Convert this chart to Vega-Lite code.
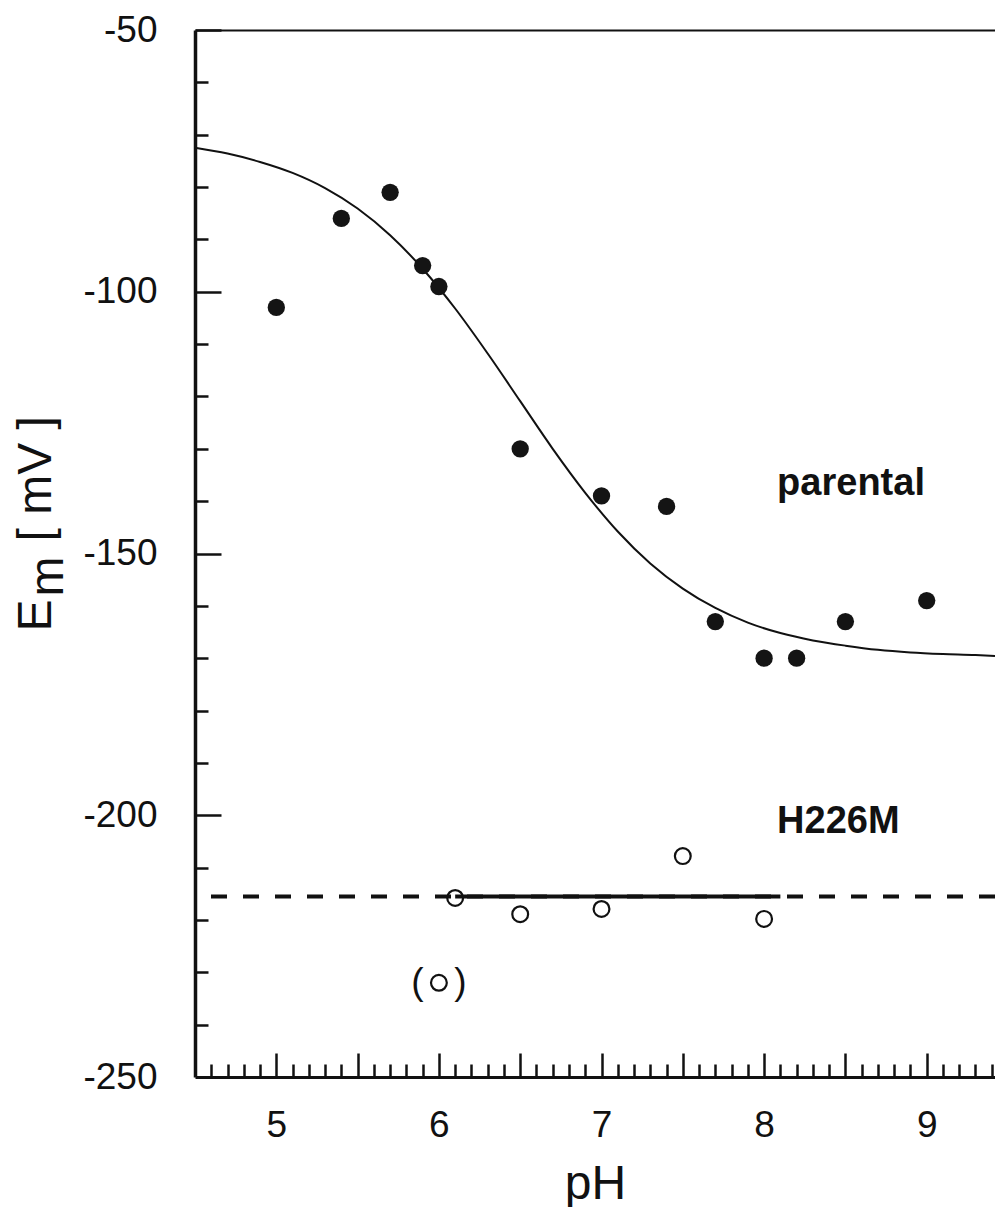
{
  "$schema": "https://vega.github.io/schema/vega-lite/v6.json",
  "width": 800,
  "height": 1047,
  "autosize": {"type": "none"},
  "padding": {"left": 195, "top": 30, "right": 0, "bottom": 130},
  "background": "white",
  "config": {
    "view": {"stroke": null},
    "axis": {
      "grid": false,
      "labelFont": "Liberation Sans",
      "titleFont": "Liberation Sans",
      "labelColor": "#111",
      "titleColor": "#111",
      "domainColor": "#111",
      "tickColor": "#111",
      "titleFontWeight": "normal"
    },
    "text": {"font": "Liberation Sans"}
  },
  "datasets": {
    "parental": [
      {"pH": 5.0, "Em": -103},
      {"pH": 5.4, "Em": -86},
      {"pH": 5.7, "Em": -81},
      {"pH": 5.9, "Em": -95},
      {"pH": 6.0, "Em": -99},
      {"pH": 6.5, "Em": -130},
      {"pH": 7.0, "Em": -139},
      {"pH": 7.4, "Em": -141},
      {"pH": 7.7, "Em": -163},
      {"pH": 8.0, "Em": -170},
      {"pH": 8.2, "Em": -170},
      {"pH": 8.5, "Em": -163},
      {"pH": 9.0, "Em": -159}
    ],
    "parentalFit": [
      {"pH": 4.5, "Em": -72.5},
      {"pH": 4.7, "Em": -73.6},
      {"pH": 4.9, "Em": -75.2},
      {"pH": 5.1, "Em": -77.3},
      {"pH": 5.3, "Em": -80.2},
      {"pH": 5.5, "Em": -84.1},
      {"pH": 5.7, "Em": -89.2},
      {"pH": 5.9, "Em": -95.6},
      {"pH": 6.1, "Em": -103.2},
      {"pH": 6.3, "Em": -111.8},
      {"pH": 6.5, "Em": -120.9},
      {"pH": 6.7, "Em": -130.0},
      {"pH": 6.9, "Em": -138.4},
      {"pH": 7.1, "Em": -145.8},
      {"pH": 7.3, "Em": -151.9},
      {"pH": 7.5, "Em": -156.7},
      {"pH": 7.7, "Em": -160.4},
      {"pH": 7.9, "Em": -163.2},
      {"pH": 8.1, "Em": -165.2},
      {"pH": 8.3, "Em": -166.6},
      {"pH": 8.5, "Em": -167.6},
      {"pH": 8.7, "Em": -168.4},
      {"pH": 8.9, "Em": -168.9},
      {"pH": 9.1, "Em": -169.2},
      {"pH": 9.3, "Em": -169.4},
      {"pH": 9.42, "Em": -169.6}
    ],
    "H226M": [
      {"pH": 6.1, "Em": -215.8, "excluded": false},
      {"pH": 6.5, "Em": -218.9, "excluded": false},
      {"pH": 7.0, "Em": -217.9, "excluded": false},
      {"pH": 7.5, "Em": -207.8, "excluded": false},
      {"pH": 8.0, "Em": -219.8, "excluded": false},
      {"pH": 6.0, "Em": -232.0, "excluded": true}
    ],
    "H226MFit": [
      {"Em": -215.5, "pH_start": 6.1, "pH_end": 8.1}
    ],
    "notes": [
      {"pH": 8.08, "Em": -138.8, "label": "parental"},
      {"pH": 8.08, "Em": -203.4, "label": "H226M"}
    ]
  },
  "resolve": {"axis": {"x": "independent", "y": "independent"}},
  "layer": [
    {
      "data": {"name": "parentalFit"},
      "mark": {"type": "line", "color": "#111", "strokeWidth": 2, "interpolate": "monotone"},
      "encoding": {
        "x": {
          "field": "pH", "type": "quantitative",
          "scale": {"domain": [4.5, 9.42], "nice": false, "zero": false},
          "axis": {
            "orient": "bottom",
            "values": [4.6, 4.7, 4.8, 4.9, 5.1, 5.2, 5.3, 5.4, 5.6, 5.7, 5.8, 5.9, 6.1, 6.2, 6.3, 6.4, 6.6, 6.7, 6.8, 6.9, 7.1, 7.2, 7.3, 7.4, 7.6, 7.7, 7.8, 7.9, 8.1, 8.2, 8.3, 8.4, 8.6, 8.7, 8.8, 8.9, 9.1, 9.2, 9.3, 9.4],
            "tickSize": -13, "tickWidth": 2.5,
            "labels": false, "domain": false, "title": null
          }
        },
        "y": {
          "field": "Em", "type": "quantitative",
          "scale": {"domain": [-250, -50], "nice": false, "zero": false},
          "axis": {
            "orient": "left",
            "values": [-240, -230, -220, -210, -190, -180, -170, -160, -140, -130, -120, -110, -90, -80, -70, -60],
            "tickSize": -13, "tickWidth": 2.5,
            "labels": false, "domain": false, "title": null
          }
        }
      }
    },
    {
      "data": {"name": "parental"},
      "mark": {"type": "circle", "color": "#141414", "size": 300, "opacity": 1},
      "encoding": {
        "x": {
          "field": "pH", "type": "quantitative",
          "scale": {"domain": [4.5, 9.42], "nice": false, "zero": false},
          "axis": {
            "orient": "bottom",
            "values": [5, 5.5, 6, 6.5, 7, 7.5, 8, 8.5, 9],
            "tickSize": -24, "tickWidth": 2.5,
            "labels": false, "domain": true, "domainWidth": 3, "title": null
          }
        },
        "y": {
          "field": "Em", "type": "quantitative",
          "scale": {"domain": [-250, -50], "nice": false, "zero": false},
          "axis": {
            "orient": "left",
            "values": [-200, -150, -100, -50],
            "tickSize": -26, "tickWidth": 2.5,
            "labels": false, "domain": true, "domainWidth": 3.5, "title": null
          }
        }
      }
    },
    {
      "data": {"name": "H226M"},
      "mark": {"type": "point", "shape": "circle", "filled": false, "size": 250, "strokeWidth": 2.2, "color": "#111", "opacity": 1},
      "encoding": {
        "x": {
          "field": "pH", "type": "quantitative",
          "scale": {"domain": [4.5, 9.42], "nice": false, "zero": false},
          "axis": {
            "orient": "bottom",
            "values": [5, 6, 7, 8, 9],
            "ticks": false, "tickSize": 0, "domain": false,
            "labelFontSize": 37, "labelPadding": 30, "labelFlush": false,
            "labelExpr": "'' + datum.value",
            "title": "pH", "titleFontSize": 48, "titleAngle": 0,
            "titleAlign": "center", "titleBaseline": "alphabetic",
            "titleX": 400, "titleY": 121
          }
        },
        "y": {
          "field": "Em", "type": "quantitative",
          "scale": {"domain": [-250, -50], "nice": false, "zero": false},
          "axis": {
            "orient": "left",
            "values": [-250, -200, -150, -100, -50],
            "ticks": false, "tickSize": 0, "domain": false,
            "labelFontSize": 37, "labelPadding": 38, "labelFlush": false,
            "labelExpr": "'' + datum.value",
            "title": "E", "titleFontSize": 48, "titleAngle": 270,
            "titleAlign": "left", "titleBaseline": "alphabetic",
            "titleX": -145, "titleY": 601
          }
        }
      }
    },
    {
      "data": {"name": "H226MFit"},
      "mark": {"type": "rule", "color": "#111", "strokeWidth": 4, "strokeDash": [16, 16]},
      "encoding": {
        "y": {
          "field": "Em", "type": "quantitative",
          "scale": {"domain": [-250, -50], "nice": false, "zero": false},
          "axis": {
            "orient": "left",
            "ticks": false, "labels": false, "domain": false,
            "title": "m", "titleFontSize": 48, "titleAngle": 270,
            "titleAlign": "left", "titleBaseline": "alphabetic",
            "titleX": -133, "titleY": 566
          }
        }
      }
    },
    {
      "data": {"name": "H226MFit"},
      "mark": {"type": "rule", "color": "#111", "strokeWidth": 4},
      "encoding": {
        "x": {
          "field": "pH_start", "type": "quantitative",
          "scale": {"domain": [4.5, 9.42], "nice": false, "zero": false},
          "axis": {
            "orient": "top",
            "ticks": false, "labels": false,
            "domain": true, "domainWidth": 2, "title": null
          }
        },
        "x2": {"field": "pH_end"},
        "y": {
          "field": "Em", "type": "quantitative",
          "scale": {"domain": [-250, -50], "nice": false, "zero": false},
          "axis": {
            "orient": "left",
            "ticks": false, "labels": false, "domain": false,
            "title": "[ mV ]", "titleFontSize": 48, "titleAngle": 270,
            "titleAlign": "left", "titleBaseline": "alphabetic",
            "titleX": -145, "titleY": 511
          }
        }
      }
    },
    {
      "data": {"name": "notes"},
      "mark": {"type": "text", "align": "left", "baseline": "alphabetic", "fontSize": 38, "fontWeight": "bold", "color": "#111"},
      "encoding": {
        "x": {"field": "pH", "type": "quantitative", "scale": {"domain": [4.5, 9.42], "nice": false, "zero": false}, "axis": null},
        "y": {"field": "Em", "type": "quantitative", "scale": {"domain": [-250, -50], "nice": false, "zero": false}, "axis": null},
        "text": {"field": "label"}
      }
    },
    {
      "data": {"name": "H226M"},
      "transform": [{"filter": "datum.excluded"}],
      "mark": {"type": "text", "text": "(\u00a0\u00a0\u00a0)", "align": "center", "baseline": "middle", "fontSize": 37, "color": "#111"},
      "encoding": {
        "x": {"field": "pH", "type": "quantitative", "scale": {"domain": [4.5, 9.42], "nice": false, "zero": false}, "axis": null},
        "y": {"field": "Em", "type": "quantitative", "scale": {"domain": [-250, -50], "nice": false, "zero": false}, "axis": null}
      }
    }
  ]
}
